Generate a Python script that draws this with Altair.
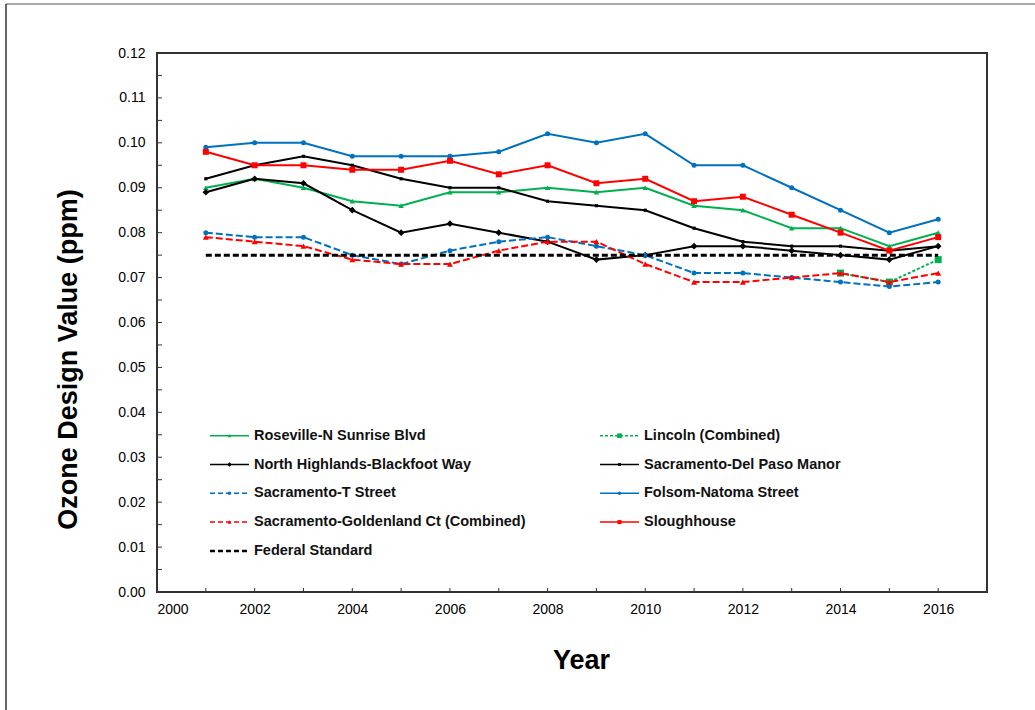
import altair as alt
import pandas as pd

# Annual ozone design values (ppm), 2001-2016
years = list(range(2001, 2017))
roseville = [0.090, 0.092, 0.090, 0.087, 0.086, 0.089, 0.089, 0.090,
             0.089, 0.090, 0.086, 0.085, 0.081, 0.081, 0.077, 0.080]
lincoln_years = [2014, 2015, 2016]
lincoln = [0.071, 0.069, 0.074]
north_highlands = [0.089, 0.092, 0.091, 0.085, 0.080, 0.082, 0.080, 0.078,
                   0.074, 0.075, 0.077, 0.077, 0.076, 0.075, 0.074, 0.077]
del_paso = [0.092, 0.095, 0.097, 0.095, 0.092, 0.090, 0.090, 0.087,
            0.086, 0.085, 0.081, 0.078, 0.077, 0.077, 0.076, 0.077]
t_street = [0.080, 0.079, 0.079, 0.075, 0.073, 0.076, 0.078, 0.079,
            0.077, 0.075, 0.071, 0.071, 0.070, 0.069, 0.068, 0.069]
folsom = [0.099, 0.100, 0.100, 0.097, 0.097, 0.097, 0.098, 0.102,
          0.100, 0.102, 0.095, 0.095, 0.090, 0.085, 0.080, 0.083]
goldenland = [0.079, 0.078, 0.077, 0.074, 0.073, 0.073, 0.076, 0.078,
              0.078, 0.073, 0.069, 0.069, 0.070, 0.071, 0.069, 0.071]
sloughhouse = [0.098, 0.095, 0.095, 0.094, 0.094, 0.096, 0.093, 0.095,
               0.091, 0.092, 0.087, 0.088, 0.084, 0.080, 0.076, 0.079]
federal = [0.075] * len(years)

y_labels = [round(i * 0.01, 2) for i in range(13)]
x_labels = list(range(2000, 2017, 2))

GREEN, BLUE, RED, BLACK = "#00B050", "#0070C0", "#FF0000", "#000000"
FONT = "Liberation Sans"
W, H = 830, 539

# name, years, values, colour, dash, marker shape, marker size
series = [
    ("Roseville-N Sunrise Blvd", years, roseville, GREEN, None, "triangle-up", 30),
    ("Lincoln (Combined)", lincoln_years, lincoln, GREEN, [3, 2], "square", 49),
    ("North Highlands-Blackfoot Way", years, north_highlands, BLACK, None, "diamond", 45),
    ("Sacramento-Del Paso Manor", years, del_paso, BLACK, None, "square", 10),
    ("Sacramento-T Street", years, t_street, BLUE, [7, 3], "circle", 25),
    ("Folsom-Natoma Street", years, folsom, BLUE, None, "circle", 25),
    ("Sacramento-Goldenland Ct (Combined)", years, goldenland, RED, [7, 3], "triangle-up", 36),
    ("Sloughhouse", years, sloughhouse, RED, None, "square", 36),
    ("Federal Standard", years, federal, BLACK, [6, 3], None, 0),
]

xs = alt.Scale(domain=[2000, 2017], nice=False, zero=False)
ys = alt.Scale(domain=[0, 0.12], nice=False)

X_AXIS = alt.Axis(
    values=x_labels, format="d", ticks=False, domain=False, grid=False,
    labelFont=FONT, labelFontSize=14, labelColor="#000000", labelPadding=10,
    title="Year", titleFont=FONT, titleFontSize=27, titleFontWeight="bold",
    titleColor="#000000", titleX=424, titleY=68, titleAlign="center",
    titleBaseline="middle",
)
Y_AXIS = alt.Axis(
    values=y_labels, format=".2f", ticks=False, domain=False, grid=False,
    labelFont=FONT, labelFontSize=14, labelColor="#000000", labelPadding=12,
    title="Ozone Design Value (ppm)", titleFont=FONT, titleFontSize=27,
    titleFontWeight="bold", titleColor="#000000", titleX=-89, titleY=306,
    titleAlign="center", titleBaseline="middle", titleAngle=-90,
)


def xenc(field):
    return alt.X(field, scale=xs, axis=X_AXIS)


def yenc(field):
    return alt.Y(field, scale=ys, axis=Y_AXIS)


layers = []

# inward tick marks along the left and bottom edges
y_ticks = pd.DataFrame({"v": [round(i * 0.005, 3) for i in range(25)]})
layers.append(
    alt.Chart(y_ticks).mark_rule(color="#333333", strokeWidth=1).encode(
        y=yenc("v:Q"), x=alt.value(0), x2=alt.value(5)
    )
)
x_ticks = pd.DataFrame({"yr": list(range(2001, 2017))})
layers.append(
    alt.Chart(x_ticks).mark_rule(color="#333333", strokeWidth=1).encode(
        x=xenc("yr:Q"), y=alt.value(H), y2=alt.value(H - 4)
    )
)

# legend layout inside the plot area
LEG_COL_X = [53, 443]
LEG_ROW_Y0, LEG_ROW_DY = 382.7, 28.8
LEG_LINE_LEN, LEG_TEXT_GAP = 39, 5

for i, (name, yrs, vals, color, dash, shape, size) in enumerate(series):
    df = pd.DataFrame({"year": yrs, "value": vals, "series": name})
    line_kw = dict(color=color, strokeWidth=3 if name == "Federal Standard" else 2)
    if dash:
        line_kw["strokeDash"] = dash
    enc = dict(x=xenc("year:Q"), y=yenc("value:Q"))
    layers.append(alt.Chart(df).mark_line(**line_kw).encode(**enc))
    if shape:
        layers.append(
            alt.Chart(df).mark_point(
                filled=True, shape=shape, size=size, color=color, opacity=1
            ).encode(**enc)
        )

    # legend entry
    col, row = i % 2, i // 2
    lx = LEG_COL_X[col]
    ly = LEG_ROW_Y0 + row * LEG_ROW_DY
    one = alt.Data(values=[{"label": name}])
    rule_kw = dict(color=color, strokeWidth=2.5 if name == "Federal Standard" else 1.5)
    if dash:
        rule_kw["strokeDash"] = [5, 3] if name != "Lincoln (Combined)" else [3, 2]
    layers.append(
        alt.Chart(one).mark_rule(**rule_kw).encode(
            x=alt.value(lx), x2=alt.value(lx + LEG_LINE_LEN), y=alt.value(ly)
        )
    )
    if shape:
        layers.append(
            alt.Chart(one).mark_point(
                filled=True, shape=shape, size=max(size * 0.45, 8), color=color, opacity=1
            ).encode(x=alt.value(lx + LEG_LINE_LEN / 2), y=alt.value(ly))
        )
    layers.append(
        alt.Chart(one).mark_text(
            align="left", baseline="middle", font=FONT, fontSize=14.5,
            fontWeight="bold", color="#111111"
        ).encode(
            x=alt.value(lx + LEG_LINE_LEN + LEG_TEXT_GAP), y=alt.value(ly),
            text="label:N"
        )
    )

# outer frame lines of the figure
frame = alt.Data(values=[{}])
layers.append(
    alt.Chart(frame).mark_rule(color="#8C8C8C", strokeWidth=1.5).encode(
        x=alt.value(-151), x2=alt.value(878), y=alt.value(-49)
    )
)
layers.append(
    alt.Chart(frame).mark_rule(color="#333333", strokeWidth=1.5).encode(
        x=alt.value(-151), y=alt.value(-49), y2=alt.value(657)
    )
)

chart = (
    alt.layer(*layers)
    .properties(
        width=W, height=H,
        autosize=alt.AutoSizeParams(type="none"),
        padding={"left": 157, "top": 53, "right": 48, "bottom": 118},
        background="white",
    )
    .configure_view(stroke="#333333", strokeWidth=2)
)

chart.save("out.html", embed_options={"renderer": "svg", "actions": False})
